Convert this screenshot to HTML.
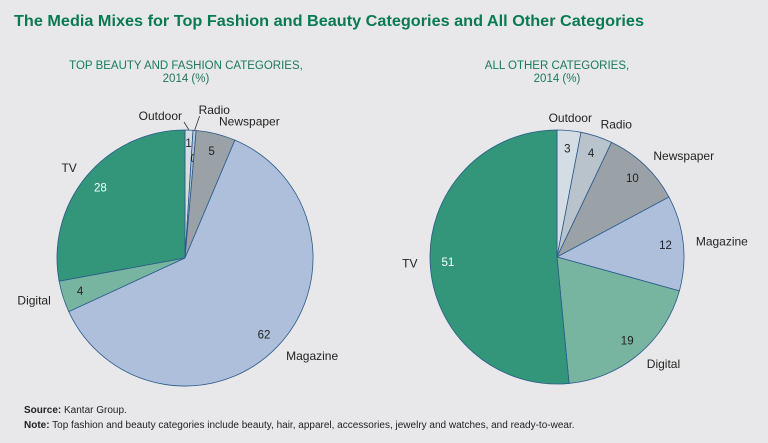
<!DOCTYPE html>
<html><head><meta charset="utf-8"><style>
body{margin:0;background:#e8e8ea;font-family:"Liberation Sans",sans-serif;}
svg{display:block}
</style></head><body>
<svg id="c" width="768" height="443" viewBox="0 0 768 443">
<rect width="768" height="443" fill="#e8e8ea"/>
<text x="14" y="26" font-size="16" font-weight="bold" fill="#0a7a53" textLength="630" lengthAdjust="spacingAndGlyphs">The Media Mixes for Top Fashion and Beauty Categories and All Other Categories</text>
<text x="186" y="69" font-size="11.5" fill="#1a7a5a" text-anchor="middle">TOP BEAUTY AND FASHION CATEGORIES,</text>
<text x="186" y="82" font-size="11.5" fill="#1a7a5a" text-anchor="middle">2014 (%)</text>
<text x="557" y="69" font-size="11.5" fill="#1a7a5a" text-anchor="middle">ALL OTHER CATEGORIES,</text>
<text x="557" y="82" font-size="11.5" fill="#1a7a5a" text-anchor="middle">2014 (%)</text>
<g id="pies"></g>
<text x="24" y="413" font-size="10" fill="#222"><tspan font-weight="bold">Source:</tspan> Kantar Group.</text>
<text x="24" y="428" font-size="10" fill="#222"><tspan font-weight="bold">Note:</tspan> Top fashion and beauty categories include beauty, hair, apparel, accessories, jewelry and watches, and ready-to-wear.</text>
</svg>
<script>
const categories = ["Outdoor","Radio","Newspaper","Magazine","Digital","TV"];
const beautyValues = [1, 0.4, 5, 62, 4, 28];
const otherValues = [3, 4, 10, 12, 19, 51];
const colors = ["#d4dde4","#b9c3cc","#9aa2a8","#aebfdc","#77b5a0","#33957a"];
const NS="http://www.w3.org/2000/svg";
const g=document.getElementById('pies');
function mk(t,a){const e=document.createElementNS(NS,t);for(const k in a)e.setAttribute(k,a[k]);return e;}
function pie(vals,cx,cy,r,key){
  const tot=vals.reduce((a,b)=>a+b,0);
  let acc=0;
  vals.forEach((v,i)=>{
    const a0=acc/tot*2*Math.PI, a1=(acc+v)/tot*2*Math.PI; acc+=v;
    const p=(a)=>[cx+r*Math.sin(a), cy-r*Math.cos(a)];
    const [x0,y0]=p(a0),[x1,y1]=p(a1);
    const large=(a1-a0)>Math.PI?1:0;
    const s=mk('path',{d:`M${cx},${cy}L${x0},${y0}A${r},${r} 0 ${large} 1 ${x1},${y1}Z`,fill:colors[i],stroke:'#2a5a8a','stroke-width':'0.8'});
    
    
    g.appendChild(s);
    const am=(a0+a1)/2, sn=Math.sin(am), cs=Math.cos(am);
    const small=v/tot<0.025;
    const vr=small? r*0.9 : r*0.86;
    const vt=mk('text',{x:cx+vr*sn,y:cy-vr*cs+4,'font-size':'11.5','text-anchor':'middle',fill:i===5?'#fff':'#222'});
    vt.textContent=Math.round(v);
    
    
    if(small && i===1) vt.setAttribute('y', cy-r*0.78*cs+4);
    g.appendChild(vt);
    let nr=r*1.1, nx, ny, anchor;
    if(small){
      const ex=cx+r*sn, ey=cy-r*cs;
      if(i===0){ nx=ex-7; ny=cy-r-10; anchor='end'; }
      else { nx=ex+4; ny=cy-r-16; anchor='start'; }
      const ln=mk('line',{x1:ex,y1:ey,x2:(i===0?nx+2:nx+1),y2:ny+2,stroke:'#333','stroke-width':'0.8'});
      
      
      g.appendChild(ln);
    } else {
      nx=cx+nr*sn; ny=cy-nr*cs+4;
      anchor=Math.abs(sn)<0.1?'middle':(sn>0?'start':'end');
    }
    const nt=mk('text',{x:nx,y:ny,'font-size':'12','text-anchor':anchor,fill:'#222'});
    nt.textContent=categories[i];
    
    
    g.appendChild(nt);
  });
}
pie(beautyValues,185,258,128,'beauty');
pie(otherValues,557,257,127,'other');
</script>
</body></html>
